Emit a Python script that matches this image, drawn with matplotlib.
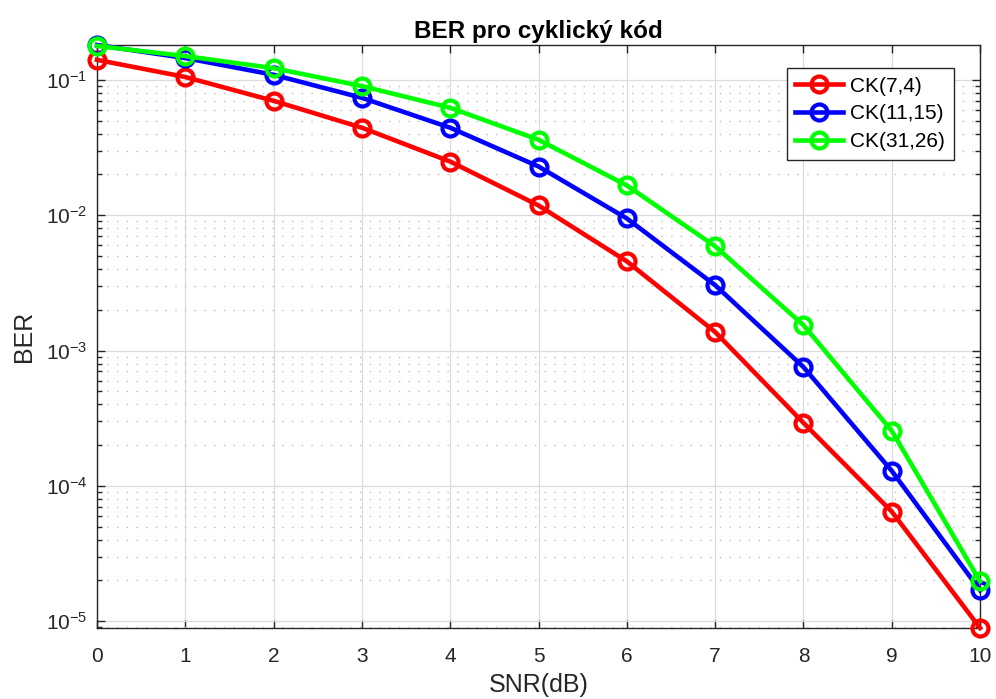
import numpy as np
import matplotlib.pyplot as plt
from matplotlib.ticker import LogLocator, NullFormatter

plt.rcParams['font.family'] = ['Liberation Sans', 'DejaVu Sans']
plt.rcParams['mathtext.fontset'] = 'custom'
plt.rcParams['mathtext.rm'] = 'Liberation Sans'
plt.rcParams['mathtext.it'] = 'Liberation Sans'

snr = [0, 1, 2, 3, 4, 5, 6, 7, 8, 9, 10]
ber_7_4 = [0.1406, 0.105, 0.070, 0.0443, 0.0249, 0.0118, 0.00456, 0.00137, 2.92e-4, 6.45e-5, 8.9e-6]
ber_11_15 = [0.181, 0.145, 0.109, 0.0737, 0.0443, 0.0229, 0.00946, 0.00304, 7.55e-4, 1.29e-4, 1.69e-5]
ber_31_26 = [0.178, 0.150, 0.122, 0.090, 0.0622, 0.0361, 0.0166, 0.00589, 0.00154, 2.55e-4, 1.97e-5]
labels = ['CK(7,4)', 'CK(11,15)', 'CK(31,26)']

fig = plt.figure(figsize=(9.96, 6.99), dpi=100)
ax = fig.add_axes([0.0974, 0.1016, 0.8866, 0.834])

style = dict(marker='o', markersize=11.5, markerfacecolor='none', markeredgewidth=3,
             linewidth=3.3, clip_on=False, zorder=5)
ax.semilogy(snr, ber_7_4, color='#ff0000', label=labels[0], **style)
ax.semilogy(snr, ber_11_15, color='#0000ff', label=labels[1], **style)
ax.semilogy(snr, ber_31_26, color='#00ff00', label=labels[2], **style)

all_vals = ber_7_4 + ber_11_15 + ber_31_26
ax.set_xlim(0, 10)
ax.set_ylim(min(all_vals), max(all_vals))
ax.set_xticks(snr)

ax.yaxis.set_major_locator(LogLocator(base=10, numticks=10))
ax.yaxis.set_minor_locator(LogLocator(base=10, subs=np.arange(2, 10), numticks=20))
ax.yaxis.set_minor_formatter(NullFormatter())

ax.grid(True, which='major', color='#dcdcdc', linewidth=0.9, linestyle='-')
ax.grid(True, which='minor', axis='y', color='#bdbdbd', linewidth=1.0, linestyle=(0, (1, 6)))
ax.set_axisbelow(True)

ax.tick_params(which='both', direction='in', top=True, right=True, labelsize=15, colors='#262626')
ax.tick_params(which='major', length=6, width=1)
ax.tick_params(which='minor', length=3.5, width=1)
ax.tick_params(axis='x', pad=14)
ax.tick_params(axis='y', pad=7)
for s in ax.spines.values():
    s.set_color('#262626')
    s.set_linewidth(1)

ax.set_xlabel('SNR(dB)', fontsize=18, color='#262626', labelpad=5)
ax.set_ylabel('BER', fontsize=18, color='#262626', labelpad=7)
ax.set_title('BER pro cyklický kód', fontsize=17.5, fontweight='bold', color='black', pad=5)

leg = ax.legend(loc='upper right', bbox_to_anchor=(0.97, 0.96), fontsize=15,
                fancybox=False, edgecolor='#262626', framealpha=1, handlelength=2.3,
                borderpad=0.4, labelspacing=0.42, handletextpad=0.35, borderaxespad=0)
leg.get_frame().set_linewidth(1)

fig.savefig('out.png', dpi=100)
